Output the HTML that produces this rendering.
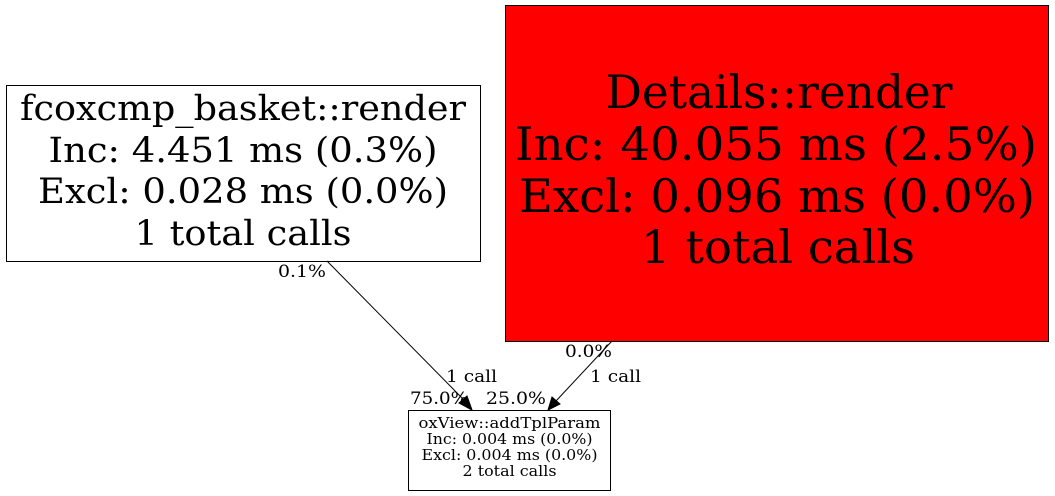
<!DOCTYPE html>
<html><head><meta charset="utf-8"><style>
html,body{margin:0;padding:0;background:#fff;}
svg{display:block;}
text{font-family:"DejaVu Serif","Liberation Serif",serif;fill:#000;}
</style></head><body>
<svg width="1055" height="496" viewBox="0 0 1055 496" xmlns="http://www.w3.org/2000/svg">
<rect x="6.5" y="85.5" width="474" height="176" fill="#fff" stroke="#000" stroke-width="1"/>
<g font-size="35" text-anchor="middle">
<text x="243" y="120" textLength="446" lengthAdjust="spacingAndGlyphs">fcoxcmp_basket::render</text>
<text x="243" y="162" textLength="389" lengthAdjust="spacingAndGlyphs">Inc: 4.451 ms (0.3%)</text>
<text x="243" y="203" textLength="410" lengthAdjust="spacingAndGlyphs">Excl: 0.028 ms (0.0%)</text>
<text x="243" y="245" textLength="217" lengthAdjust="spacingAndGlyphs">1 total calls</text>
</g>
<rect x="505.5" y="5.5" width="543" height="336" fill="#ff0000" stroke="#000" stroke-width="1"/>
<g font-size="46" text-anchor="middle">
<text x="779" y="108" textLength="347" lengthAdjust="spacingAndGlyphs">Details::render</text>
<text x="776" y="160" textLength="522" lengthAdjust="spacingAndGlyphs">Inc: 40.055 ms (2.5%)</text>
<text x="777" y="212" textLength="516" lengthAdjust="spacingAndGlyphs">Excl: 0.096 ms (0.0%)</text>
<text x="778" y="263" textLength="274" lengthAdjust="spacingAndGlyphs">1 total calls</text>
</g>
<rect x="408.5" y="410.5" width="202" height="80" fill="#fff" stroke="#000" stroke-width="1"/>
<g font-size="15" text-anchor="middle">
<text x="509.5" y="428" textLength="182" lengthAdjust="spacingAndGlyphs">oxView::addTplParam</text>
<text x="509.5" y="444" textLength="166" lengthAdjust="spacingAndGlyphs">Inc: 0.004 ms (0.0%)</text>
<text x="509.5" y="460" textLength="176" lengthAdjust="spacingAndGlyphs">Excl: 0.004 ms (0.0%)</text>
<text x="509.5" y="476" textLength="94" lengthAdjust="spacingAndGlyphs">2 total calls</text>
</g>
<line x1="327" y1="261" x2="464" y2="400" stroke="#000" stroke-width="1"/>
<polygon points="472,410 459,403 467,396" fill="#000" stroke="#000"/>
<line x1="612" y1="341" x2="556" y2="401" stroke="#000" stroke-width="1"/>
<polygon points="548,410 552,397 560,404" fill="#000" stroke="#000"/>
<g font-size="17">
<text x="278" y="277" textLength="48" lengthAdjust="spacingAndGlyphs">0.1%</text>
<text x="446" y="382" textLength="51" lengthAdjust="spacingAndGlyphs">1 call</text>
<text x="410" y="404" textLength="58" lengthAdjust="spacingAndGlyphs">75.0%</text>
<text x="486" y="404" textLength="60" lengthAdjust="spacingAndGlyphs">25.0%</text>
<text x="565" y="357" textLength="47" lengthAdjust="spacingAndGlyphs">0.0%</text>
<text x="590" y="382" textLength="51" lengthAdjust="spacingAndGlyphs">1 call</text>
</g>
</svg>
</body></html>
